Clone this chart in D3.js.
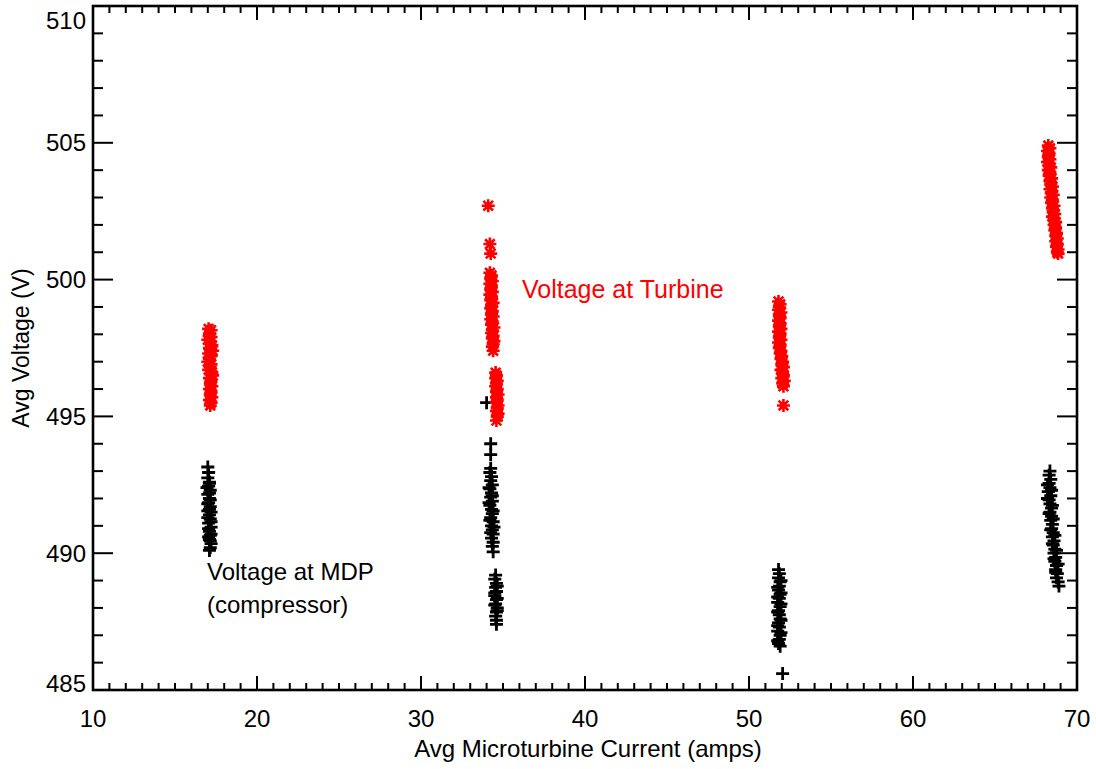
<!DOCTYPE html>
<html><head><meta charset="utf-8">
<script src="https://cdn.jsdelivr.net/npm/d3@7"></script>
<style>body{margin:0;background:#fff;} text{font-family:"Liberation Sans",Arial,sans-serif;}</style>
</head><body>
<svg id="c" width="1096" height="769"></svg>
<script>
// ---- data: [current (amps), voltage (V)] ----
const turbineC1 = [[17.05,498.2],[17.2,498.15],[17.1,498.0],[17.2,497.9],[17.0,497.8],[17.15,497.7],[17.25,497.6],[17.1,497.5],[17.3,497.4],[17.05,497.3],[17.2,497.2],[17.1,497.1],[17.0,497.0],[17.2,496.9],[17.15,496.8],[17.05,496.7],[17.25,496.6],[17.3,496.5],[17.1,496.4],[17.2,496.3],[17.15,496.2],[17.25,496.1],[17.1,496.0],[17.2,495.9],[17.15,495.8],[17.25,495.7],[17.1,495.6],[17.2,495.5],[17.15,495.4]];
const turbineC2 = [[34.1,502.7],[34.2,501.3],[34.25,500.95],
  [34.2,500.25],[34.3,500.15],[34.25,500.05],[34.35,499.95],[34.2,499.85],[34.3,499.75],[34.25,499.65],[34.35,499.55],[34.2,499.45],[34.3,499.35],[34.25,499.25],[34.4,499.15],[34.3,499.05],[34.25,498.95],[34.35,498.85],[34.3,498.75],[34.4,498.65],[34.25,498.55],[34.35,498.45],[34.3,498.35],[34.45,498.25],[34.35,498.15],[34.3,498.05],[34.4,497.95],[34.35,497.85],[34.45,497.75],[34.4,497.65],[34.35,497.55],[34.4,497.4],
  [34.55,496.6],[34.6,496.5],[34.55,496.4],[34.65,496.3],[34.6,496.2],[34.55,496.1],[34.65,496.0],[34.6,495.9],[34.7,495.8],[34.6,495.7],[34.65,495.6],[34.6,495.5],[34.7,495.4],[34.65,495.3],[34.6,495.2],[34.7,495.1],[34.65,495.0],[34.6,494.85]];
const turbineC3 = [[51.8,499.2],[51.9,499.1],[51.85,499.0],[51.8,498.9],[51.95,498.8],[51.85,498.7],[51.9,498.6],[51.8,498.5],[51.9,498.4],[51.85,498.3],[51.95,498.2],[51.8,498.1],[51.9,498.0],[51.85,497.9],[51.95,497.8],[51.8,497.7],[51.9,497.6],[51.85,497.5],[51.95,497.4],[51.9,497.3],[52.0,497.2],[51.95,497.1],[52.05,497.0],[52.0,496.9],[52.1,496.8],[51.95,496.7],[52.05,496.6],[52.1,496.5],[52.0,496.4],[52.15,496.3],[52.05,496.2],[52.1,496.1],[52.1,495.4]];
const turbineC4 = [[68.25,504.9],[68.35,504.8],[68.2,504.7],[68.3,504.6],[68.25,504.5],[68.35,504.4],[68.2,504.3],[68.3,504.2],[68.4,504.1],[68.25,504.0],[68.35,503.9],[68.3,503.8],[68.45,503.7],[68.35,503.6],[68.4,503.5],[68.5,503.4],[68.35,503.3],[68.45,503.2],[68.55,503.1],[68.4,503.0],[68.5,502.9],[68.45,502.8],[68.6,502.7],[68.5,502.6],[68.55,502.5],[68.65,502.4],[68.5,502.3],[68.6,502.2],[68.7,502.1],[68.6,502.0],[68.7,501.9],[68.65,501.8],[68.75,501.7],[68.7,501.6],[68.8,501.5],[68.7,501.4],[68.8,501.3],[68.75,501.2],[68.85,501.1],[68.8,501.0],[68.85,500.95]];
const mdpC1 = [[17.0,493.15],[17.05,492.95],[17.0,492.75],[17.1,492.6],[17.05,492.45],[17.15,492.3],[17.0,492.15],[17.1,492.0],[17.05,491.85],[17.15,491.7],[17.0,491.55],[17.1,491.4],[17.15,491.25],[17.05,491.1],[17.2,490.95],[17.1,490.8],[17.15,490.65],[17.1,490.5],[17.2,490.35],[17.15,490.2],[17.1,490.1],
  [17.1,492.55],[16.95,492.4],[17.1,492.2],[17.15,491.95],[17.0,491.8],[17.1,491.6],[17.2,491.5],[17.0,491.3],[17.2,491.15],[17.05,490.9],[17.2,490.7],[17.05,490.6],[17.15,490.45]];
const mdpC2 = [[34.0,495.5],[34.25,494.0],[34.25,493.6],
  [34.25,493.1],[34.2,492.95],[34.3,492.8],[34.25,492.65],[34.35,492.5],[34.2,492.35],[34.3,492.2],[34.25,492.05],[34.35,491.9],[34.2,491.75],[34.3,491.6],[34.35,491.45],[34.25,491.3],[34.4,491.15],[34.3,491.0],[34.35,490.85],[34.4,490.7],[34.3,490.55],[34.4,490.4],[34.35,490.25],[34.4,490.05],
  [34.15,492.4],[34.35,492.1],[34.15,491.85],[34.4,491.55],[34.2,491.2],[34.45,490.95],[34.25,490.75],
  [34.55,489.2],[34.5,489.05],[34.6,488.9],[34.55,488.75],[34.6,488.6],[34.5,488.45],[34.6,488.3],[34.55,488.15],[34.65,488.0],[34.6,487.85],[34.55,487.7],[34.6,487.55],[34.6,487.4],
  [34.65,488.8],[34.5,488.55],[34.65,488.35],[34.5,488.1],[34.65,487.9]];
const mdpC3 = [[51.8,489.4],[51.85,489.25],[51.8,489.1],[51.9,488.95],[51.85,488.8],[51.8,488.65],[51.9,488.5],[51.85,488.35],[51.75,488.2],[51.9,488.05],[51.8,487.9],[51.85,487.75],[51.9,487.6],[51.8,487.45],[51.85,487.3],[51.75,487.15],[51.9,487.0],[51.85,486.85],[51.8,486.7],[51.9,486.6],[52.05,485.6],
  [51.95,489.0],[51.75,488.75],[51.95,488.55],[51.75,488.4],[51.95,488.15],[51.75,487.85],[51.95,487.55],[51.75,487.35],[51.95,487.1],[51.75,486.8]];
const mdpC4 = [[68.35,493.0],[68.3,492.85],[68.4,492.7],[68.3,492.55],[68.35,492.4],[68.25,492.25],[68.4,492.1],[68.3,491.95],[68.35,491.8],[68.45,491.65],[68.35,491.5],[68.45,491.35],[68.4,491.2],[68.5,491.05],[68.45,490.9],[68.55,490.75],[68.5,490.6],[68.6,490.45],[68.55,490.3],[68.65,490.15],[68.6,490.0],[68.7,489.85],[68.65,489.7],[68.75,489.55],[68.7,489.4],[68.8,489.25],[68.75,489.1],[68.85,488.95],[68.9,488.8],
  [68.2,492.5],[68.45,492.3],[68.2,492.0],[68.5,491.75],[68.3,491.45],[68.55,491.25],[68.4,490.85],[68.65,490.65],[68.5,490.35],[68.75,490.1],[68.6,489.8],[68.85,489.6],[68.7,489.3]];

const xTicks = [10,20,30,40,50,60,70];
const yTicks = [485,490,495,500,505,510];
const labels = {turbine:"Voltage at Turbine", mdp1:"Voltage at MDP", mdp2:"(compressor)", xTitle:"Avg Microturbine Current (amps)", yTitle:"Avg Voltage (V)"};

const svg = d3.select("#c");
const L=93, R=1077, T=6, B=690;
const x = d3.scaleLinear().domain([10,70]).range([L,R]);
const y = d3.scaleLinear().domain([485,510]).range([B,T]);

// minor & major ticks
const g = svg.append("g").attr("stroke","#000").attr("stroke-width",2);
d3.range(10,71,1).forEach(v=>{
  const major = v%10===0;
  const len = major?14:7;
  if(v>10 && v<70){
    g.append("line").attr("x1",x(v)).attr("x2",x(v)).attr("y1",B).attr("y2",B-len);
    g.append("line").attr("x1",x(v)).attr("x2",x(v)).attr("y1",T).attr("y2",T+len);
  }
});
d3.range(485,511,1).forEach(v=>{
  const major = v%5===0;
  const len = major?20:10;
  if(v>485 && v<510){
    g.append("line").attr("x1",L).attr("x2",L+len).attr("y1",y(v)).attr("y2",y(v));
    g.append("line").attr("x1",R).attr("x2",R-len).attr("y1",y(v)).attr("y2",y(v));
  }
});
svg.append("rect").attr("x",L).attr("y",T).attr("width",R-L).attr("height",B-T)
  .attr("fill","none").attr("stroke","#000").attr("stroke-width",2.6);

// tick labels
svg.append("g").selectAll("text").data(xTicks).join("text")
  .attr("x",d=>x(d)).attr("y",B+37).attr("text-anchor","middle")
  .attr("font-size",24).attr("fill","#000").text(d=>d);
svg.append("g").selectAll("text").data(yTicks).join("text")
  .attr("x",L-7).attr("y",d=>Math.min(Math.max(y(d),20),683)).attr("dy","0.36em")
  .attr("text-anchor","end").attr("font-size",24).attr("fill","#000").text(d=>d);

// titles
svg.append("text").attr("x",588).attr("y",757).attr("text-anchor","middle")
  .attr("font-size",24).attr("fill","#000").text(labels.xTitle);
svg.append("text").attr("transform",`translate(29,${(T+B)/2}) rotate(-90)`).attr("text-anchor","middle")
  .attr("font-size",23).attr("fill","#000").text(labels.yTitle);

// markers
function plusPath(d){const cx=x(d[0]),cy=y(d[1]),s=6.5;return `M${cx-s},${cy}H${cx+s}M${cx},${cy-s}V${cy+s}`;}
function starPath(d){const cx=x(d[0]),cy=y(d[1]),s=6.5,k=4.8;
  return `M${cx-s},${cy}H${cx+s}M${cx},${cy-s}V${cy+s}M${cx-k},${cy-k}L${cx+k},${cy+k}M${cx-k},${cy+k}L${cx+k},${cy-k}`;}
const mdp = [].concat(mdpC1,mdpC2,mdpC3,mdpC4);
const turb = [].concat(turbineC1,turbineC2,turbineC3,turbineC4);
svg.append("g").selectAll("path").data(mdp).join("path").attr("d",plusPath)
  .attr("stroke","#000").attr("stroke-width",2.8).attr("fill","none");
svg.append("g").selectAll("path").data(turb).join("path").attr("d",starPath)
  .attr("stroke","#ff0000").attr("stroke-width",2.6).attr("fill","none");

// annotations
svg.append("text").attr("x",522).attr("y",298).attr("font-size",25).attr("fill","#ff0000").text(labels.turbine);
svg.append("text").attr("x",207).attr("y",580).attr("font-size",24).attr("fill","#000").text(labels.mdp1);
svg.append("text").attr("x",207).attr("y",613).attr("font-size",24).attr("fill","#000").text(labels.mdp2);
</script>
</body></html>
